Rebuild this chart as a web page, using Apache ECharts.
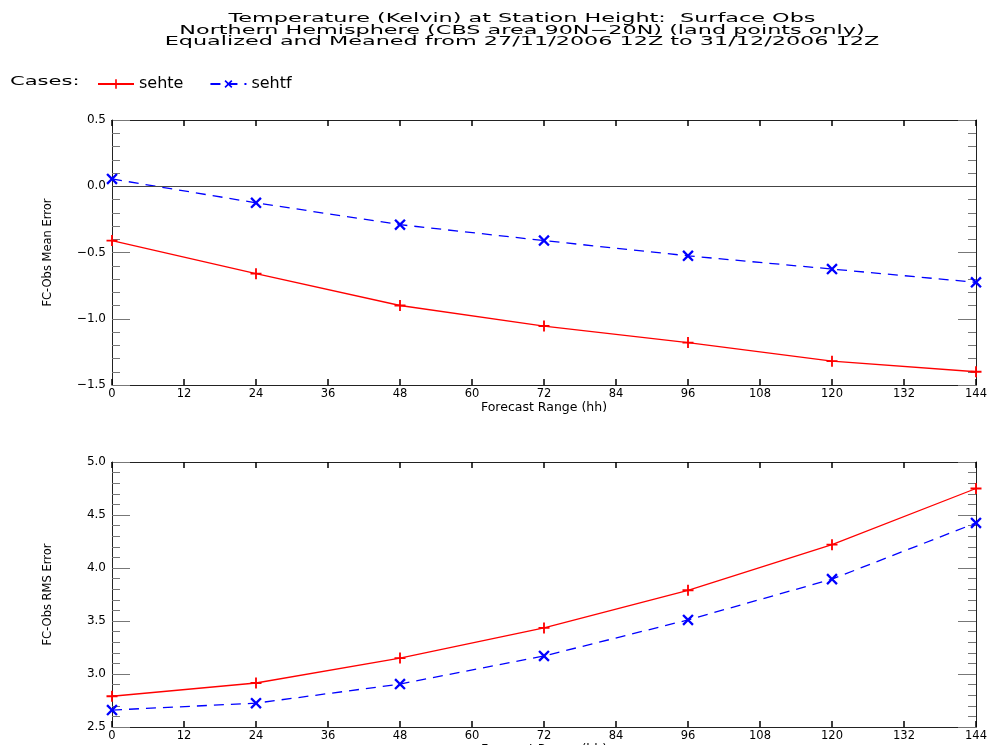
<!DOCTYPE html>
<html>
<head>
<meta charset="utf-8">
<script src="https://cdn.jsdelivr.net/npm/echarts@6/dist/echarts.min.js"></script>
<style>
  html, body { margin: 0; padding: 0; background: #fff; }
  #chart { width: 988px; height: 745px; }
</style>
</head>
<body>
<div id="chart"></div>
<script>
// forecast hours
const hours = [0, 24, 48, 72, 96, 120, 144]
// FC-Obs mean error
const meanSehte = [-0.41, -0.66, -0.9, -1.055, -1.18, -1.32, -1.4]
const meanSehtf = [0.055, -0.125, -0.29, -0.41, -0.525, -0.625, -0.725]
// FC-Obs rms error
const rmsSehte = [2.79, 2.915, 3.15, 3.435, 3.79, 4.22, 4.75]
const rmsSehtf = [2.66, 2.725, 2.905, 3.17, 3.51, 3.895, 4.425]

const titleLines = [
  'Temperature (Kelvin) at Station Height:  Surface Obs',
  'Northern Hemisphere (CBS area 90N\u221220N) (land points only)',
  'Equalized and Meaned from 27/11/2006 12Z to 31/12/2006 12Z'
]

const font = '"DejaVu Sans", sans-serif'
const plusPath = 'path://M-1,-6H1V-1H6V1H1V6H-1V1H-6V-1H-1Z'

function pairs(vals) {
  return hours.map((h, i) => [h, vals[i]])
}

function fmt(v) {
  return v < 0 ? '\u2212' + Math.abs(v).toFixed(1) : v.toFixed(1)
}

function xAxes(gridIndex) {
  let tick = { show: true, inside: true, length: 6, lineStyle: { color: '#000', width: 1.5 } }
  return [
    {
      gridIndex: gridIndex,
      type: 'value',
      min: 0,
      max: 144,
      interval: 12,
      name: 'Forecast Range (hh)',
      nameLocation: 'middle',
      nameGap: 10,
      nameTextStyle: { fontFamily: font, fontSize: 12.5, color: '#000' },
      axisLine: { show: true, onZero: false, lineStyle: { color: '#222', width: 1 } },
      axisTick: tick,
      axisLabel: { fontFamily: font, fontSize: 11.5, color: '#000', margin: 3 },
      splitLine: { show: false }
    },
    {
      gridIndex: gridIndex,
      type: 'value',
      position: 'top',
      min: 0,
      max: 144,
      interval: 12,
      axisLine: { show: true, onZero: false, lineStyle: { color: '#222', width: 1 } },
      axisTick: tick,
      axisLabel: { show: false },
      splitLine: { show: false }
    }
  ]
}

function yAxes(gridIndex, min, max, name) {
  let common = {
    gridIndex: gridIndex,
    type: 'value',
    min: min,
    max: max,
    interval: 0.5,
    axisLine: { show: true, onZero: false, lineStyle: { color: '#222', width: 1 } },
    axisTick: { inside: true, length: 18, lineStyle: { color: '#777' } },
    minorTick: { show: true, splitNumber: 5, length: 8, lineStyle: { color: '#777' } },
    splitLine: { show: false }
  }
  return [
    Object.assign({}, common, {
      position: 'left',
      name: name,
      nameLocation: 'middle',
      nameGap: 58,
      nameTextStyle: { fontFamily: font, fontSize: 11.5, color: '#000' },
      axisLabel: { fontFamily: font, fontSize: 12, color: '#000', margin: 6, formatter: fmt }
    }),
    Object.assign({}, common, {
      position: 'right',
      axisLabel: { show: false }
    })
  ]
}

function lineSeries(name, vals, xi, yi, extra) {
  let red = name === 'sehte'
  return Object.assign({
    name: name,
    type: 'line',
    xAxisIndex: xi,
    yAxisIndex: yi,
    data: pairs(vals),
    symbol: plusPath,
    symbolSize: red ? 11 : 14,
    symbolRotate: red ? 0 : 45,
    showAllSymbol: true,
    clip: false,
    lineStyle: {
      color: red ? '#ff0000' : '#0000ff',
      width: 1.3,
      type: red ? 'solid' : [10, 7]
    },
    itemStyle: { color: red ? '#ff0000' : '#0000ff' },
    emphasis: { disabled: true }
  }, extra || {})
}

const chart = echarts.init(document.getElementById('chart'), null, { renderer: 'canvas' })

chart.setOption({
  animation: false,
  backgroundColor: '#fff',
  graphic: titleLines.map((t, i) => ({
    type: 'text',
    x: 522,
    y: 19 + i * 11.5,
    scaleX: 1.86,
    style: {
      text: t,
      x: 0,
      y: 0,
      textAlign: 'center',
      textVerticalAlign: 'middle',
      font: '12px ' + font,
      fill: '#000'
    }
  })).concat([{
    type: 'text',
    x: 10,
    y: 82,
    scaleX: 1.62,
    style: {
      text: 'Cases:',
      textVerticalAlign: 'middle',
      font: '13px ' + font,
      fill: '#000'
    }
  }]),
  legend: {
    data: ['sehte', 'sehtf'],
    left: 92,
    top: 71,
    itemWidth: 36,
    itemHeight: 12,
    itemGap: 26,
    textStyle: { fontFamily: font, fontSize: 16, color: '#000' }
  },
  grid: [
    { left: 112, right: 12, top: 120, height: 265, outerBoundsMode: 'none' },
    { left: 112, right: 12, top: 462, height: 265, outerBoundsMode: 'none' }
  ],
  xAxis: xAxes(0).concat(xAxes(1)),
  yAxis: yAxes(0, -1.5, 0.5, 'FC-Obs Mean Error').concat(yAxes(1, 2.5, 5.0, 'FC-Obs RMS Error')),
  series: [
    lineSeries('sehte', meanSehte, 0, 0, {
      markLine: {
        silent: true,
        symbol: 'none',
        label: { show: false },
        lineStyle: { color: '#444', type: 'solid', width: 1 },
        data: [{ yAxis: 0 }]
      }
    }),
    lineSeries('sehtf', meanSehtf, 0, 0),
    lineSeries('sehte', rmsSehte, 2, 2),
    lineSeries('sehtf', rmsSehtf, 2, 2)
  ]
})
</script>
</body>
</html>
